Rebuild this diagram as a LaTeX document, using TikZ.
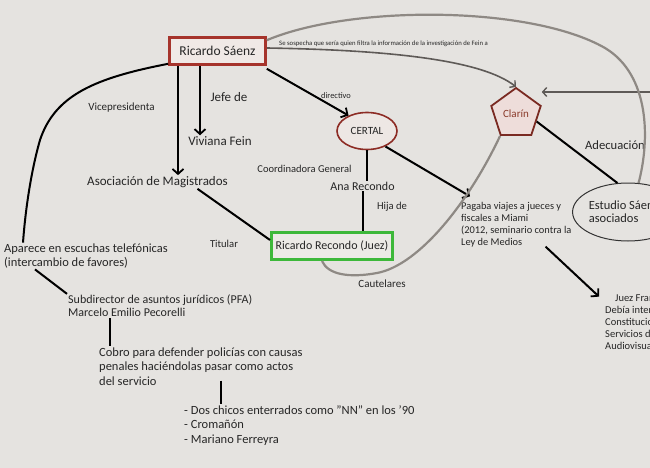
\documentclass[tikz,border=0pt]{standalone}
\usepackage{fontspec}
\setmainfont{Carlito}
\usetikzlibrary{arrows.meta,shapes.geometric}
\definecolor{bgc}{HTML}{E5E3E0}
\definecolor{txtc}{HTML}{262626}
\definecolor{redb}{HTML}{A6342C}
\definecolor{sfill}{HTML}{F0E9E6}
\definecolor{greenb}{HTML}{3DB83A}
\definecolor{gfill}{HTML}{ECEAE6}
\definecolor{greyl}{HTML}{8E8984}
\definecolor{darkg}{HTML}{5E5A57}
\definecolor{pentb}{HTML}{7A2A22}
\definecolor{pentf}{HTML}{EEDDDA}
\definecolor{clarc}{HTML}{8A3A2A}
\newcommand{\fsz}[2]{\fontsize{#1}{#2}\selectfont}
\begin{document}
\begin{tikzpicture}[x=1pt,y=-1pt,
  lbl/.style={inner sep=1pt, text=txtc},
  ml/.style={inner sep=1pt, text=txtc, align=left, anchor=west},
  blk/.style={draw=black, line width=2pt},
  arr/.style={blk, -{Straight Barb[length=5pt,width=11pt,line width=1.8pt]}},
  grey/.style={draw=greyl, line width=2.2pt},
  darr/.style={draw=darkg, line width=1.6pt, -{Straight Barb[length=4pt,width=9pt,line width=1.4pt]}},
  garr/.style={draw=darkg, line width=1.8pt, -{Straight Barb[length=4pt,width=9pt,line width=1.4pt]}}
]
\fill[bgc] (0,0) rectangle (650,468);
\useasboundingbox (0,0) rectangle (650,468);

% nodes
\node[draw=redb, line width=2.6pt, fill=sfill, minimum width=96pt, minimum height=27pt, inner sep=0pt, text=txtc, font=\fsz{13.5}{16}] (saenz) at (217.5,51) {Ricardo Sáenz};
\node[lbl, anchor=west, font=\fsz{6.7}{8}] (sosp) at (278,44) {Se sospecha que sería quien filtra la información de la investigación de Fein a};
\node[lbl, font=\fsz{11}{13}] (vice) at (121.5,108) {Vicepresidenta};
\node[lbl, font=\fsz{13}{15}] (jefe) at (229,97) {Jefe de};
\node[lbl, font=\fsz{13}{15}] (viviana) at (220,141) {Viviana Fein};
\node[lbl, font=\fsz{13}{15}] (asoc) at (157.5,182) {Asociación de Magistrados};
\node[lbl, font=\fsz{8.4}{10}] (dir) at (336,96) {directivo};
\node[ellipse, draw=redb!85!black, line width=1.6pt, fill=sfill!70!bgc, minimum width=60pt, minimum height=37pt, inner sep=0pt, text=txtc, font=\fsz{11}{13}] (certal) at (367,131) {CERTAL};
\node[lbl, font=\fsz{10.5}{12}] (coord) at (304.5,169) {Coordinadora General};
\node[lbl, font=\fsz{12}{14}] (ana) at (362.5,186) {Ana Recondo};
\node[lbl, font=\fsz{10.6}{12}] (hija) at (392,207) {Hija de};
\node[draw=greenb, line width=3pt, fill=gfill, minimum width=121pt, minimum height=27pt, inner sep=0pt, text=txtc, font=\fsz{12}{14}] (recondo) at (332,246) {Ricardo Recondo (Juez)};
\node[lbl, font=\fsz{10.6}{12}] (titular) at (224,244) {Titular};
\node[lbl, font=\fsz{11}{13}] (caut) at (382,284) {Cautelares};
\node[ml, font=\fsz{10.4}{12}] (pagaba) at (460,225) {Pagaba viajes a jueces y\\fiscales a Miami\\(2012, seminario contra la\\Ley de Medios};
\node[regular polygon, regular polygon sides=5, minimum size=52pt, inner sep=0pt, draw=pentb, line width=1.8pt, fill=pentf, text=clarc, font=\fsz{11}{13}] (clarin) at (516,114) {Clarín};
\node[lbl, font=\fsz{12.6}{15}] (adec) at (615,145) {Adecuación};
\node[ellipse, draw=black!80, line width=1pt, minimum width=104pt, minimum height=58pt, inner sep=0pt, align=left, text=txtc, font=\fsz{12.5}{13}] (estudio) at (628,212) {Estudio Sáenz y\\asociados};
\node[ml, font=\fsz{10.5}{12}] (juez) at (604,321.5) {\hspace*{10pt}Juez Francisco de las Carreras\\Debía interpretar la\\Constitucionalidad de la Ley de\\Servicios de Comunicación\\Audiovisual};
\node[ml, font=\fsz{12.5}{14}] (aparece) at (3,256) {Aparece en escuchas telefónicas\\(intercambio de favores)};
\node[ml, font=\fsz{12}{13}] (subdir) at (67,306) {Subdirector de asuntos jurídicos (PFA)\\Marcelo Emilio Pecorelli};
\node[ml, font=\fsz{12.5}{14.5}] (cobro) at (98,366.5) {Cobro para defender policías con causas\\penales haciéndolas pasar como actos\\del servicio};
\node[ml, font=\fsz{12.5}{14.5}] (dos) at (183,425.5) {- Dos chicos enterrados como ''NN'' en los '90\\- Cromañón\\- Mariano Ferreyra};
\coordinate (rightin) at (652,92);

% connectors
\draw[blk] ([yshift=2pt]saenz.south west) .. controls (95,78) and (55,95) .. (40,140) .. controls (30,175) and (25,215) .. ([xshift=20pt]aparece.north west);
\draw[arr] ([xshift=-39.5pt]saenz.south) -- ([xshift=20.5pt]asoc.north);
\draw[arr] ([xshift=-17.5pt]saenz.south) -- ([xshift=-20pt]viviana.north);
\draw[arr] ([yshift=-3pt]saenz.south east) -- (certal.140);
\draw[blk] (certal.south) -- (certal.south |- ana.north);
\draw[blk] (ana.south) -- (recondo.north -| ana.south);
\draw[arr] (certal.-40) -- ([xshift=10pt,yshift=5pt]pagaba.north west);
\draw[blk] ([xshift=40pt]asoc.south) -- ([yshift=6pt]recondo.west);
\draw[grey] ([xshift=-10pt]recondo.south) .. controls (328,275) and (350,278) .. (377,273) .. controls (420,265) and (470,200) .. (clarin.corner 3);
\draw[darr] ([yshift=3pt]saenz.east) .. controls (390,50) and (482,60) .. (clarin.corner 1);
\draw[garr] (rightin) -- (clarin.corner 5 |- rightin);
\draw[grey] ([yshift=-4pt]saenz.north east) .. controls (350,5) and (530,5) .. (605,48) .. controls (650,75) and (650,140) .. (estudio.70);
\draw[blk] (clarin.-20) -- (estudio.110);
\draw[arr] ([xshift=-27pt,yshift=2pt]pagaba.south east) -- ([xshift=-5pt,yshift=-4pt]juez.north west);
\draw[blk] ([xshift=32pt]aparece.south west) -- (subdir.north west);
\draw[blk] ([xshift=43pt]subdir.south west) -- ([xshift=12pt]cobro.north west);
\draw[blk] ([xshift=123pt,yshift=6pt]cobro.south west) -- ([xshift=38pt]dos.north west);
\end{tikzpicture}
\end{document}
